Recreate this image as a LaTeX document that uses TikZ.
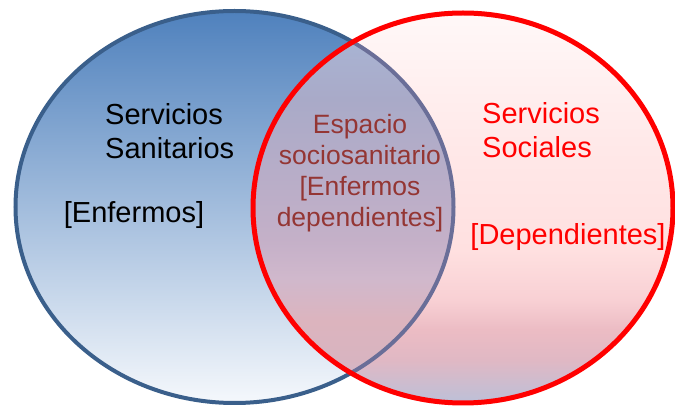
\documentclass[tikz,border=0pt]{standalone}
\usepackage{fontspec}
\setmainfont{Liberation Sans}
\usepackage{xcolor}
\usetikzlibrary{positioning}
\definecolor{blue1}{HTML}{4F81BD}
\definecolor{blue2}{HTML}{F5F8FC}
\definecolor{blueline}{HTML}{3A5F8B}
\definecolor{blueseen}{HTML}{6A6E98}
\definecolor{red1}{HTML}{FF0000}
\definecolor{brown1}{HTML}{943634}
% social area over white
\definecolor{socA}{HTML}{FFF8F8}
\definecolor{socB}{HTML}{FFE8E8}
\definecolor{socC}{HTML}{FFE0E0}
\definecolor{socD}{HTML}{F8D0D4}
\definecolor{socE}{HTML}{ECBCC4}
\definecolor{socF}{HTML}{E0B8C4}
\definecolor{socG}{HTML}{BCC0D8}
% overlap area
\definecolor{ovA}{HTML}{A8B8D8}
\definecolor{ovB}{HTML}{A9AAC8}
\definecolor{ovC}{HTML}{C4B0C8}
\definecolor{ovD}{HTML}{D0B8CC}
\definecolor{ovE}{HTML}{DCB4BE}
\definecolor{ovF}{HTML}{D8B4C0}
\definecolor{ovG}{HTML}{C8BCD4}
\pgfdeclareverticalshading{socialfill}{100bp}{
  color(0bp)=(socG); color(25bp)=(socG); color(30.5bp)=(socF);
  color(34.4bp)=(socE); color(38.2bp)=(socD); color(44.6bp)=(socC);
  color(57.5bp)=(socB); color(75bp)=(socA); color(100bp)=(socA)}
\pgfdeclareverticalshading{overlapfill}{100bp}{
  color(0bp)=(ovG); color(25bp)=(ovG); color(30.5bp)=(ovF);
  color(35.5bp)=(ovE); color(41bp)=(ovD); color(46bp)=(ovC);
  color(64bp)=(ovB); color(75bp)=(ovA); color(100bp)=(ovA)}
\newcommand{\sanpath}{(234.5,200) ellipse [x radius=219, y radius=196]}
\newcommand{\socpath}{(463,199) ellipse [x radius=210, y radius=195]}

\begin{document}
\begin{tikzpicture}[
    x=1pt, y=1pt,
    big/.style={font=\fontsize{29}{34}\selectfont, inner sep=0pt},
    mid/.style={font=\fontsize{26.5}{31}\selectfont, inner sep=0pt,
                align=center, text=brown1},
]
\useasboundingbox (0,0) rectangle (675,407);

% Servicios sanitarios
\draw[line width=4pt, draw=blueline, top color=blue1, bottom color=blue2]
    \sanpath;

% Servicios sociales
\shade[shading=socialfill] \socpath;
\begin{scope}
  \clip \sanpath;
  \shade[shading=overlapfill] \socpath;
\end{scope}
\begin{scope}
  \clip \socpath;
  \draw[line width=4pt, blueseen] \sanpath;
\end{scope}
\draw[line width=5pt, red1] \socpath;

% Labels
\node[big, anchor=west, align=left] (san) at (105,275.5)
    {Servicios\\Sanitarios};
\node[big] (enf) at (134,192) {[Enfermos]};
\node[mid] (esp) at (360,234)
    {Espacio\\sociosanitario\\{[Enfermos}\\dependientes]};
\node[big, anchor=west, align=left, text=red1] (soc) at (482,277)
    {Servicios\\Sociales};
\node[big, text=red1] (dep) at (568,170) {[Dependientes]};
\end{tikzpicture}
\end{document}
